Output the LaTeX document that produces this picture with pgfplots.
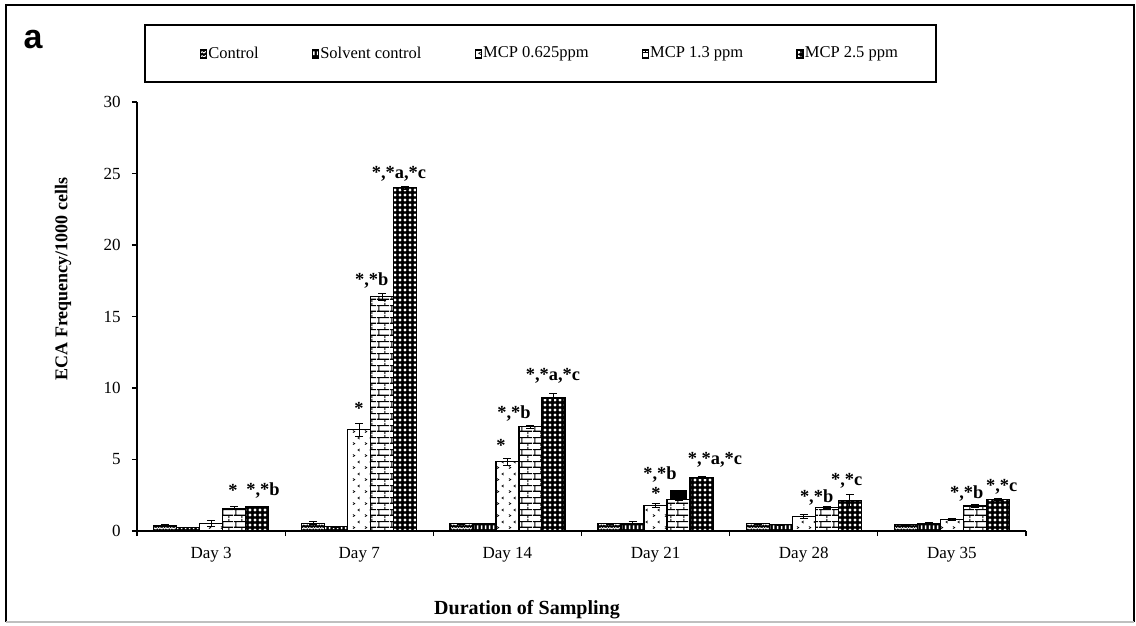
\documentclass[border=0pt]{standalone}
\usepackage{fontspec}
\setmainfont{Liberation Serif}
\newfontfamily\panelfont{Liberation Sans}
\usepackage{pgfplots}
\pgfplotsset{compat=1.18}
\usetikzlibrary{patterns,patterns.meta}

% fill patterns for the five treatment groups
\tikzdeclarepattern{
  name=zigzag, type=uncolored,
  bounding box={(0pt,0pt) and (3pt,2pt)}, tile size={(3pt,2pt)},
  code={
    \draw[line width=0.45pt] (-0.75pt,1.4pt) -- (0pt,0.6pt) -- (0.75pt,1.4pt) -- (1.5pt,0.6pt)
      -- (2.25pt,1.4pt) -- (3pt,0.6pt) -- (3.75pt,1.4pt);
  }
}
\tikzdeclarepattern{
  name=slots, type=uncolored,
  bounding box={(0pt,0pt) and (2pt,3pt)}, tile size={(2pt,3pt)},
  code={\fill (0.5pt,0.5pt) rectangle (1.5pt,2.5pt);}
}
\tikzdeclarepattern{
  name=chevrons, type=uncolored,
  bounding box={(0pt,0pt) and (5.75pt,6pt)}, tile size={(5.75pt,6pt)},
  code={
    \draw[line width=0.35pt] (1pt,0.7pt) -- (2pt,1.3pt) -- (1pt,1.9pt)
      (4.6pt,3.7pt) -- (3.6pt,4.3pt) -- (4.6pt,4.9pt);
  }
}
\tikzdeclarepattern{
  name=brickwall, type=uncolored,
  bounding box={(0pt,0pt) and (6.5pt,6pt)}, tile size={(6.5pt,6pt)},
  code={
    \draw[line width=0.6pt] (0pt,1.5pt) -- (6.5pt,1.5pt) (0pt,4.5pt) -- (6.5pt,4.5pt)
      (1pt,1.5pt) -- (1pt,4.5pt) (4.25pt,4.5pt) -- (4.25pt,6pt) (4.25pt,0pt) -- (4.25pt,1.5pt);
  }
}
\tikzdeclarepattern{
  name=holes, type=uncolored,
  bounding box={(0pt,0pt) and (2.25pt,2.25pt)}, tile size={(2.25pt,2.25pt)},
  code={\fill (1.125pt,1.125pt) circle (0.9pt);}
}

\pgfplotsset{
  boxlegend/.style={legend image code/.code={\draw[##1, line width=0.6pt] (0pt,-2pt) rectangle (3pt,2pt);}},
  errs/.style={error bars/.cd, y dir=both, y explicit,
    error bar style={line width=0.5pt, draw=black}},
  grpControl/.style={draw=black, line width=0.6pt, fill=black,
    postaction={pattern=zigzag, pattern color=white}, bar shift=-23pt, boxlegend},
  grpSolvent/.style={draw=black, line width=0.6pt, fill=black,
    postaction={pattern=slots, pattern color=white}, bar shift=-11.5pt, boxlegend},
  grpLow/.style={draw=black, line width=0.6pt, fill=white,
    postaction={pattern=chevrons, pattern color=black}, bar shift=0pt, boxlegend},
  grpMid/.style={draw=black, line width=0.6pt, fill=white,
    postaction={pattern=brickwall, pattern color=black}, bar shift=11.5pt, boxlegend},
  grpHigh/.style={draw=black, line width=0.6pt, fill=black,
    postaction={pattern=holes, pattern color=white}, bar shift=23pt, boxlegend},
}

\begin{document}
\begin{tikzpicture}
\begin{axis}[
  scale only axis, width=444.5pt, height=214.5pt,
  ybar, bar width=11.5pt,
  xmin=-0.5, xmax=5.5, ymin=0, ymax=30,
  axis x line*=bottom, axis y line*=left,
  axis line style={line width=0.9pt, black},
  xtick={0,1,2,3,4,5},
  xticklabels={Day 3, Day 7, Day 14, Day 21, Day 28, Day 35},
  major x tick style={draw=none},
  minor xtick={-0.5,0.5,1.5,2.5,3.5,4.5,5.5},
  minor x tick style={line width=0.6pt, black},
  ytick={0,5,10,15,20,25,30},
  ytick style={line width=0.6pt, black},
  tick align=outside,
  major tick length=2.5pt, minor tick length=2.5pt,
  /pgf/number format/assume math mode=true,
  ticklabel style={font=\fontsize{8.5}{10}\selectfont},
  xticklabel style={yshift=-2pt},
  yticklabel style={xshift=-2.2pt},
  xlabel={Duration of Sampling},
  xlabel style={at={(axis description cs:0.4387,-0.1841)}, anchor=center,
    font=\bfseries\fontsize{10}{12}\selectfont},
  ylabel={ECA Frequency/1000 cells},
  ylabel style={at={(axis description cs:-0.0832,0.5874)}, anchor=center,
    font=\bfseries\fontsize{9}{11}\selectfont},
  legend columns=5,
  legend style={at={(axis description cs:0.464,1.112)}, anchor=center,
    draw=none, fill=none, font=\fontsize{8.25}{9.6}\selectfont,
    nodes={inner xsep=0.6pt},
    /tikz/every even column/.append style={column sep=26pt}},
  clip=false,
]
\addplot[grpControl, errs] coordinates {
  (0,0.40) +- (0,0.05) (1,0.55) +- (0,0.12) (2,0.50) +- (0,0.03)
  (3,0.50) +- (0,0.03) (4,0.50) +- (0,0.03) (5,0.45) +- (0,0.03)};
\addlegendentry{Control}
\addplot[grpSolvent, errs] coordinates {
  (0,0.25) +- (0,0.03) (1,0.30) +- (0,0.03) (2,0.50) +- (0,0.03)
  (3,0.55) +- (0,0.10) (4,0.45) +- (0,0.03) (5,0.55) +- (0,0.05)};
\addlegendentry{Solvent control}
\addplot[grpLow, errs] coordinates {
  (0,0.55) +- (0,0.22) (1,7.10) +- (0,0.45) (2,4.85) +- (0,0.25)
  (3,1.80) +- (0,0.15) (4,1.00) +- (0,0.15) (5,0.80) +- (0,0.05)};
\addlegendentry{MCP 0.625ppm}
\addplot[grpMid, errs] coordinates {
  (0,1.60) +- (0,0.10) (1,16.40) +- (0,0.25) (2,7.30) +- (0,0.10)
  (3,2.20) +- (0,0.05) (4,1.65) +- (0,0.10) (5,1.75) +- (0,0.10)};
\addlegendentry{MCP 1.3 ppm}
\addplot[grpHigh, errs] coordinates {
  (0,1.70) +- (0,0.05) (1,24.00) +- (0,0.12) (2,9.30) +- (0,0.30)
  (3,3.75) +- (0,0.08) (4,2.15) +- (0,0.40) (5,2.20) +- (0,0.05)};
\addlegendentry{MCP 2.5 ppm}
% heavy error bar on the 1.3 ppm group at day 21
\addplot[forget plot, draw=none, fill=none, bar shift=11.5pt,
  error bars/.cd, y dir=plus, y explicit,
  error bar style={line width=8.5pt, draw=black}, error mark=none]
  coordinates {(3,2.20) +- (0,0.70)};

% significance marks
\begin{scope}[every node/.style={font=\bfseries\fontsize{9.2}{11}\selectfont, inner sep=0pt}]
\node at (axis cs:0.148,2.82) {*};
\node at (axis cs:0.350,2.80) {*,*b};
\node at (axis cs:0.998,8.58) {*};
\node at (axis cs:1.084,17.55) {*,*b};
\node at (axis cs:1.268,25.01) {*,*a,*c};
\node at (axis cs:1.957,6.01) {*};
\node at (axis cs:2.044,8.23) {*,*b};
\node at (axis cs:2.307,10.84) {*,*a,*c};
\node at (axis cs:3.003,2.66) {*};
\node at (axis cs:3.030,3.98) {*,*b};
\node at (axis cs:3.401,5.01) {*,*a,*c};
\node at (axis cs:4.087,2.36) {*,*b};
\node at (axis cs:4.290,3.52) {*,*c};
\node at (axis cs:5.100,2.64) {*,*b};
\node at (axis cs:5.336,3.10) {*,*c};
\end{scope}
\coordinate (O) at (rel axis cs:0,0);
\end{axis}

% panel frame, legend frame and panel letter, placed from the plot corner
\begin{scope}[shift={(O)}, x=0.5pt, y=0.5pt]
\path (-137,-93) rectangle (999,531);
\draw[line width=0.6pt, black] (-131,-91) -- (-131,526) -- (997,526) -- (997,-91);
\draw[line width=0.6pt, black!25] (-131,-91) -- (997,-91);
\draw[line width=0.9pt, black] (8,449) rectangle (799,506);
\node[font=\panelfont\bfseries\fontsize{17}{20}\selectfont] at (-104,491) {a};
\end{scope}
\end{tikzpicture}
\end{document}
